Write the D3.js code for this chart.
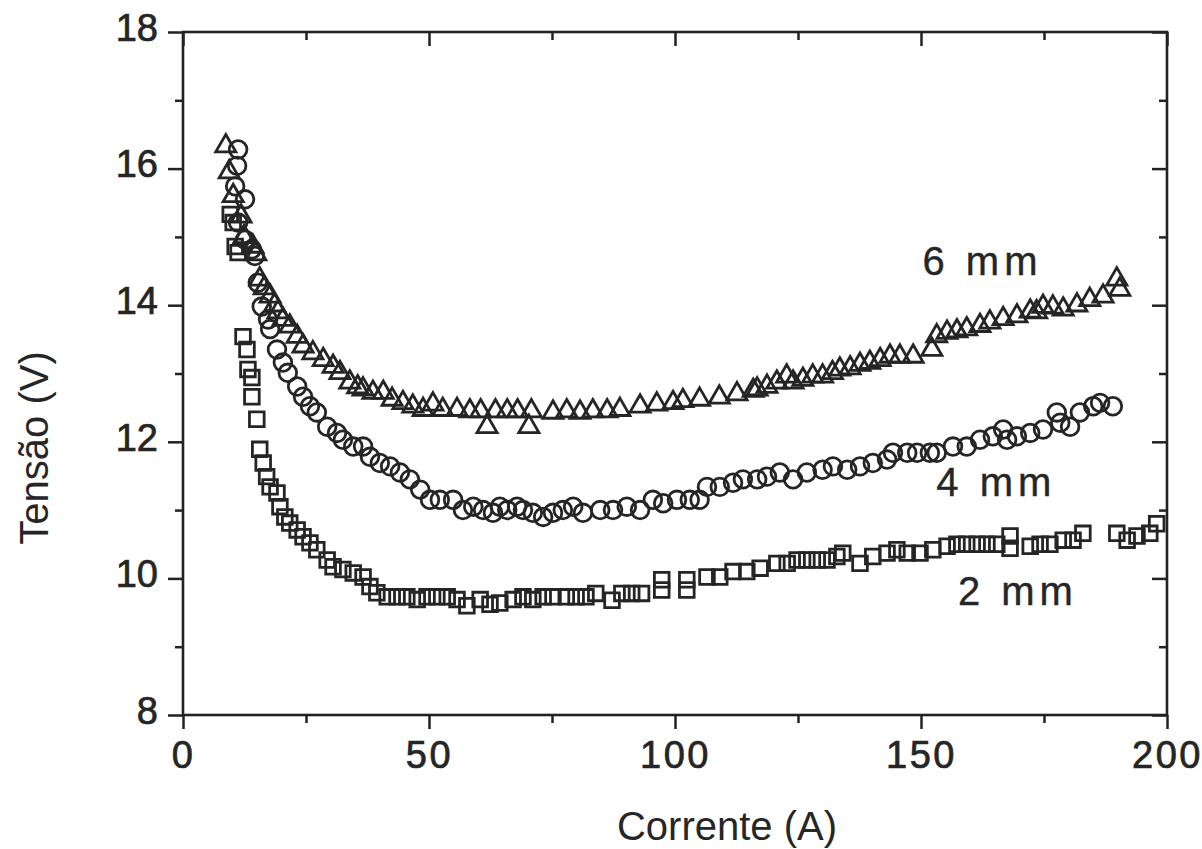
<!DOCTYPE html>
<html><head><meta charset="utf-8">
<script src="https://cdn.jsdelivr.net/npm/d3@7"></script>
<style>
html,body{margin:0;padding:0;background:#fff;}
svg text{font-family:"Liberation Sans",Arial,sans-serif;fill:#262626;}
</style></head>
<body>
<svg id="chart" width="1202" height="849"></svg>
<script>
// ---- data ----
const xTicks = [0, 50, 100, 150, 200];
const yTicks = [8, 10, 12, 14, 16, 18];
const xLabel = "Corrente (A)";
const yLabel = "Tensão (V)";

const series6mm = [
[8.7,16.33],[9.4,15.95],[10.2,15.6],[11.8,15.3],[12.4,15.0],[14.2,14.86],[14.8,14.75],[15.6,14.38],
[16.5,14.25],[17.7,14.13],[18.6,14.0],[19.3,13.9],[20.3,13.79],[21.7,13.69],[23.2,13.54],[24.4,13.4],
[26.4,13.3],[28.5,13.2],[30.5,13.1],[31.9,13.01],[33.9,12.87],[35.5,12.8],[36.6,12.77],[38.6,12.72],
[40.7,12.72],[42.5,12.62],[44.7,12.57],[46.7,12.52],[48.8,12.47],[50.8,12.55],[52.8,12.47],[55.7,12.47],
[58.3,12.45],[60.5,12.45],[61.8,12.22],[63.5,12.45],[65.9,12.45],[68.0,12.45],[70.3,12.22],[70.8,12.45],
[75.2,12.43],[78.0,12.45],[80.7,12.43],[83.3,12.45],[86.2,12.45],[88.8,12.47],[92.9,12.52],[96.3,12.55],
[99.6,12.57],[101.6,12.6],[105.0,12.62],[109.0,12.65],[112.6,12.7],[115.9,12.75],
[116.7,12.77],[118.7,12.81],[120.7,12.87],[122.7,12.96],[124.0,12.87],[126.0,12.91],[128.0,12.96],
[130.0,12.96],[132.0,13.01],[133.5,13.06],[135.6,13.08],[137.6,13.13],[139.6,13.16],[141.7,13.2],
[143.7,13.25],[145.7,13.25],[148.4,13.25],[152.2,13.35],[153.2,13.55],[155.3,13.6],[157.3,13.62],
[159.3,13.65],[162.0,13.7],[164.0,13.75],[166.7,13.8],[169.5,13.84],[172.2,13.91],[173.5,13.9],
[174.8,13.98],[176.8,13.97],[178.9,13.94],[181.7,14.0],[184.3,14.08],[187.0,14.13],[189.8,14.38],[190.4,14.23]
];

const series4mm = [
[11.2,16.28],[11.0,16.04],[10.6,15.74],[12.6,15.55],[11.2,15.21],[12.6,14.96],[14.0,14.82],[14.6,14.72],
[15.2,14.33],[16.0,13.98],[17.3,13.79],[17.7,13.65],[19.1,13.35],[20.3,13.16],[21.3,13.01],[23.2,12.81],
[24.4,12.66],[25.8,12.52],[27.2,12.43],[29.3,12.22],[31.3,12.13],[32.5,12.03],[34.6,11.93],[36.6,11.93],
[38.0,11.78],[40.0,11.69],[42.1,11.64],[44.1,11.55],[46.1,11.45],[48.2,11.3],[50.2,11.15],[52.2,11.15],
[54.9,11.15],[56.9,11.0],[59.0,11.05],[61.0,11.0],[63.0,10.96],[64.4,11.05],[65.9,11.0],[67.9,11.05],
[69.1,11.0],[71.1,10.96],[73.2,10.9],[75.2,10.96],[77.2,11.0],[79.3,11.05],[81.3,10.96],[84.8,11.0],
[87.4,11.0],[90.2,11.05],[92.9,11.0],[95.5,11.15],[97.6,11.1],[100.4,11.15],[103.0,11.15],[105.0,11.15],
[106.5,11.34],[109.1,11.34],[111.8,11.4],[113.8,11.45],[116.7,11.45],[118.7,11.49],[121.3,11.55],
[124.0,11.45],[126.8,11.55],[130.0,11.59],[132.1,11.64],[135.0,11.59],[137.6,11.64],[140.2,11.69],
[143.1,11.74],[144.3,11.84],[147.2,11.84],[149.2,11.84],[151.8,11.84],[153.2,11.84],[156.5,11.93],
[159.3,11.93],[162.0,12.03],[164.6,12.08],[166.7,12.18],[167.5,12.03],[169.5,12.08],[172.2,12.13],
[174.8,12.18],[177.6,12.43],[178.3,12.28],[180.3,12.22],[182.3,12.43],[185.0,12.52],[186.4,12.57],[189.0,12.52]
];

const series2mm = [
[9.6,15.33],[10.2,15.21],[10.6,14.86],[11.2,14.77],[12.2,13.54],[13.0,13.35],[13.2,13.06],[14.0,12.94],
[14.0,12.66],[15.0,12.33],[15.6,11.89],[16.3,11.69],[17.0,11.49],[17.7,11.34],[19.1,11.25],[19.7,11.05],
[20.7,10.9],[21.7,10.81],[23.2,10.71],[24.4,10.61],[25.8,10.52],[27.2,10.42],[29.3,10.27],[30.5,10.17],
[32.5,10.13],[34.6,10.08],[36.6,10.02],[38.0,9.88],[39.4,9.79],[41.5,9.73],[43.5,9.73],[45.5,9.73],
[47.6,9.69],[49.6,9.73],[51.6,9.73],[53.7,9.73],[55.7,9.69],[57.7,9.6],[60.4,9.69],[62.4,9.62],
[64.4,9.64],[67.1,9.69],[69.1,9.73],[71.1,9.69],[73.2,9.73],[75.2,9.73],[77.9,9.73],[79.9,9.73],
[81.9,9.73],[83.9,9.78],[87.2,9.68],[89.2,9.78],[91.2,9.78],[93.2,9.78],[97.3,9.98],[97.3,9.83],
[102.4,9.98],[102.4,9.83],[106.5,10.02],[109.1,10.02],[111.8,10.1],[114.6,10.1],[117.3,10.15],
[120.7,10.22],[122.8,10.22],[124.8,10.27],[126.8,10.27],[128.9,10.27],[130.9,10.27],[132.9,10.32],
[134.1,10.37],[137.6,10.22],[140.2,10.32],[143.1,10.37],[145.1,10.42],[147.2,10.37],[149.8,10.37],
[152.4,10.42],[155.3,10.47],[157.3,10.5],[159.3,10.5],[161.4,10.5],[163.4,10.5],[165.4,10.5],
[168.1,10.62],[168.1,10.44],[172.2,10.47],[174.2,10.5],[176.2,10.5],[178.9,10.56],[180.9,10.56],
[182.9,10.66],[189.8,10.66],[191.9,10.56],[193.9,10.62],[196.5,10.66],[197.9,10.8]
];

const seriesLabels = [
  {text: "6 mm", x: 162.5, y: 14.44},
  {text: "4 mm", x: 165.3, y: 11.2},
  {text: "2 mm", x: 169.7, y: 9.61}
];

// ---- layout ----
const margin = {left: 183, right: 1167, top: 32, bottom: 715};
const svg = d3.select("#chart");
const x = d3.scaleLinear().domain([0, 200]).range([margin.left, margin.right]);
const y = d3.scaleLinear().domain([8, 18]).range([margin.bottom, margin.top]);
const ink = "#222";

const xMinor = d3.range(25, 200, 50);
const yMinor = d3.range(9, 18, 2);

function styleAxis(g){
  g.select(".domain").remove();
  g.selectAll(".tick line").attr("stroke", ink).attr("stroke-width", 2.5);
}

// bottom axis (outward ticks with labels)
const gB = svg.append("g").attr("transform", `translate(0,${margin.bottom})`)
  .call(d3.axisBottom(x).tickValues(xTicks).tickSize(14).tickPadding(12).tickFormat(d3.format("d")));
styleAxis(gB);
gB.selectAll("text").attr("font-size", 38).attr("fill", ink).attr("stroke", ink).attr("stroke-width", 0.7)
  .attr("letter-spacing", 2.5).attr("dy", "0.72em");
svg.append("g").attr("transform", `translate(0,${margin.bottom})`)
  .call(d3.axisBottom(x).tickValues(xMinor).tickSize(8).tickFormat(""))
  .call(styleAxis);

// left axis
const gL = svg.append("g").attr("transform", `translate(${margin.left},0)`)
  .call(d3.axisLeft(y).tickValues(yTicks).tickSize(15).tickPadding(10).tickFormat(d3.format("d")));
styleAxis(gL);
gL.selectAll("text").attr("font-size", 38).attr("fill", ink).attr("stroke", ink).attr("stroke-width", 0.7)
  .attr("dy", "0.22em");
svg.append("g").attr("transform", `translate(${margin.left},0)`)
  .call(d3.axisLeft(y).tickValues(yMinor).tickSize(8).tickFormat(""))
  .call(styleAxis);

// top axis (inward ticks)
svg.append("g").attr("transform", `translate(0,${margin.top})`)
  .call(d3.axisBottom(x).tickValues(xTicks).tickSize(14).tickFormat(""))
  .call(styleAxis);
svg.append("g").attr("transform", `translate(0,${margin.top})`)
  .call(d3.axisBottom(x).tickValues(xMinor).tickSize(8).tickFormat(""))
  .call(styleAxis);

// right axis (inward ticks)
svg.append("g").attr("transform", `translate(${margin.right},0)`)
  .call(d3.axisLeft(y).tickValues(yTicks).tickSize(15).tickFormat(""))
  .call(styleAxis);
svg.append("g").attr("transform", `translate(${margin.right},0)`)
  .call(d3.axisLeft(y).tickValues(yMinor).tickSize(8).tickFormat(""))
  .call(styleAxis);

// frame
svg.append("rect")
  .attr("x", margin.left).attr("y", margin.top)
  .attr("width", margin.right - margin.left).attr("height", margin.bottom - margin.top)
  .attr("fill", "none").attr("stroke", ink).attr("stroke-width", 2.6);

// markers
function drawSeries(data, type, size){
  const sym = d3.symbol().type(type).size(size);
  svg.append("g").selectAll("path").data(data).join("path")
    .attr("d", sym)
    .attr("transform", d => `translate(${x(d[0])},${y(d[1])})`)
    .attr("fill", "none").attr("stroke", "#252525").attr("stroke-width", 2.8);
}
drawSeries(series2mm, d3.symbolSquare, 215);
drawSeries(series4mm, d3.symbolCircle, 245);
drawSeries(series6mm, d3.symbolTriangle, 175);

// series labels
svg.append("g").selectAll("text").data(seriesLabels).join("text")
  .attr("x", d => x(d.x)).attr("y", d => y(d.y))
  .attr("text-anchor", "middle").attr("font-size", 40).attr("letter-spacing", 5)
  .attr("stroke", "#262626").attr("stroke-width", 0.4)
  .text(d => d.text);

// axis titles
svg.append("text").attr("x", 727).attr("y", 840)
  .attr("text-anchor", "middle").attr("font-size", 40).text(xLabel);
svg.append("text").attr("transform", `translate(48,${448}) rotate(-90)`)
  .attr("text-anchor", "middle").attr("font-size", 40).text(yLabel);
</script>
</body></html>
